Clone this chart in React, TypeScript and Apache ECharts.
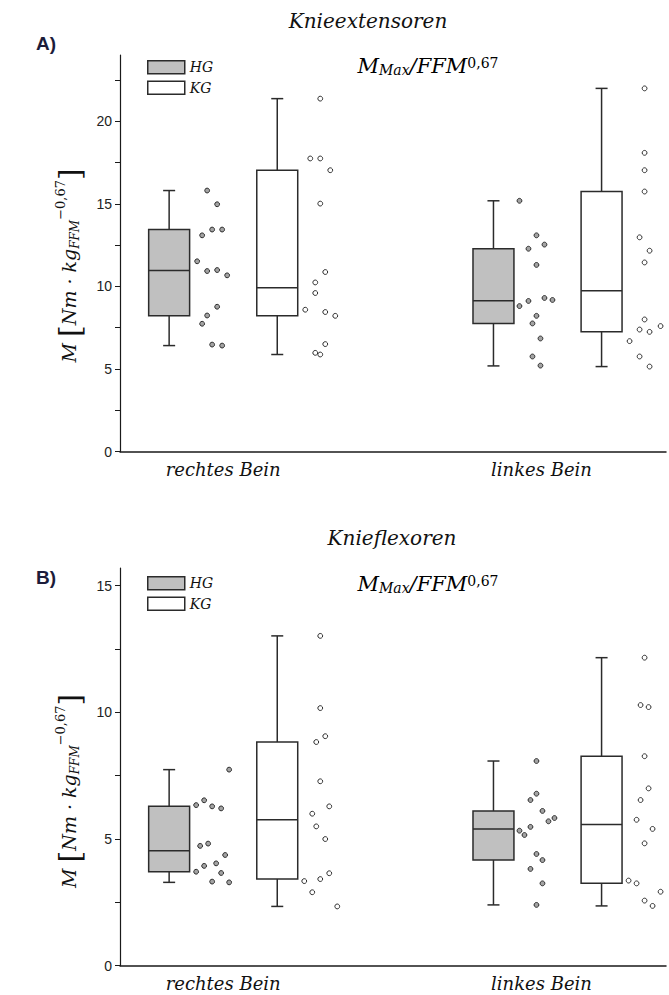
import React, { useEffect, useRef } from 'react';
import * as echarts from 'echarts';

// ---------- data ----------
const CATEGORIES = ['rechtes Bein', 'linkes Bein'];
const GROUPS = ['HG', 'KG'];

// box statistics per category: [min, Q1, median, Q3, max]
const A_HG_BOX = [[6.42, 8.22, 10.97, 13.44, 15.8], [5.19, 7.76, 9.13, 12.28, 15.18]];
const A_KG_BOX = [[5.88, 8.22, 9.92, 17.03, 21.36], [5.15, 7.25, 9.74, 15.74, 21.98]];
const B_HG_BOX = [[3.29, 3.71, 4.54, 6.29, 7.74], [2.4, 4.17, 5.4, 6.11, 8.08]];
const B_KG_BOX = [[2.34, 3.42, 5.76, 8.83, 13.02], [2.36, 3.25, 5.57, 8.27, 12.16]];

// individual values
const A_HG_RECHTS = [15.8, 14.97, 13.09, 13.44, 13.44, 11.52, 10.93, 10.99, 10.67, 8.77, 8.24, 7.74, 6.48, 6.42];
const A_KG_RECHTS = [21.36, 17.74, 17.74, 17.03, 15.01, 10.87, 10.24, 9.6, 8.59, 8.45, 8.22, 6.51, 5.98, 5.88];
const A_HG_LINKS = [15.18, 13.09, 12.28, 12.53, 11.3, 8.81, 9.12, 9.3, 9.18, 8.22, 7.76, 6.85, 5.76, 5.21];
const A_KG_LINKS = [21.98, 18.08, 17.03, 15.74, 12.97, 12.16, 11.45, 8.0, 7.39, 7.25, 7.6, 6.69, 5.76, 5.15];
const B_HG_RECHTS = [7.74, 6.53, 6.34, 6.29, 6.21, 4.73, 4.82, 4.37, 4.04, 3.94, 3.71, 3.66, 3.32, 3.29];
const B_KG_RECHTS = [13.02, 10.17, 9.06, 8.83, 7.28, 6.29, 6.0, 5.5, 5.0, 3.65, 3.42, 3.34, 2.9, 2.34];
const B_HG_LINKS = [8.08, 6.79, 6.54, 6.11, 5.7, 5.83, 5.48, 5.33, 5.16, 4.41, 4.17, 3.82, 3.25, 2.4];
const B_KG_LINKS = [12.16, 10.29, 10.21, 8.27, 7.0, 6.54, 5.76, 5.4, 4.83, 3.36, 3.25, 2.92, 2.57, 2.36];

// horizontal jitter of the individual points (offset to the right of their box)
const J_A_HG_RECHTS = [38, 48, 33, 43, 53, 28, 38, 48, 58, 48, 38, 33, 43, 53];
const J_A_KG_RECHTS = [43, 33, 43, 53, 43, 48, 38, 38, 28, 48, 58, 48, 38, 43];
const J_A_HG_LINKS = [26, 43, 35, 51, 43, 26, 35, 51, 59, 43, 39, 47, 39, 47];
const J_A_KG_LINKS = [43, 43, 43, 43, 38, 48, 43, 43, 38, 48, 59, 28, 38, 48];
const J_B_HG_RECHTS = [60, 35, 27, 43, 52, 31, 39, 56, 47, 35, 27, 52, 43, 60];
const J_B_KG_RECHTS = [43, 43, 48, 39, 43, 52, 35, 39, 48, 52, 43, 27, 35, 60];
const J_B_HG_LINKS = [43, 43, 37, 49, 55, 61, 37, 26, 31, 43, 49, 37, 49, 43];
const J_B_KG_LINKS = [43, 39, 47, 43, 47, 39, 35, 51, 43, 27, 35, 59, 43, 51];

const A_Y_TICKS = [0, 2.5, 5, 7.5, 10, 12.5, 15, 17.5, 20, 22.5];
const A_Y_LABELS = [0, 5, 10, 15, 20];
const B_Y_TICKS = [0, 2.5, 5, 7.5, 10, 12.5, 15];
const B_Y_LABELS = [0, 5, 10, 15];

// ---------- layout / style ----------
const CAT_X = [18.9, 78.3];
const LABEL_X = [18.9, 77.2];
const GROUP_SHIFT = [-9.9, 9.9];
const BOX_W = 7.5;
const CAP_W = 2.2;
const INK = '#2b2b2b';
const HG_FILL = '#c0c0c0';
const HG_DOT = '#a3a3a3';
const SERIF = '"DejaVu Serif", "Liberation Serif", serif';
const SANS = '"Liberation Sans", Arial, sans-serif';

function boxRender(fill: string) {
  return (params: any, api: any) => {
    const cx = api.value(0);
    const base = api.coord([cx, 0]);
    const hw = api.coord([cx + BOX_W / 2, 0])[0] - base[0];
    const cw = api.coord([cx + CAP_W / 2, 0])[0] - base[0];
    const x = base[0];
    const yMin = api.coord([cx, api.value(1)])[1];
    const yQ1 = api.coord([cx, api.value(2)])[1];
    const yMed = api.coord([cx, api.value(3)])[1];
    const yQ3 = api.coord([cx, api.value(4)])[1];
    const yMax = api.coord([cx, api.value(5)])[1];
    const st = { stroke: INK, lineWidth: 1.5 };
    return {
      type: 'group',
      children: [
        { type: 'line', shape: { x1: x, y1: yMax, x2: x, y2: yQ3 }, style: st },
        { type: 'line', shape: { x1: x, y1: yQ1, x2: x, y2: yMin }, style: st },
        { type: 'line', shape: { x1: x - cw, y1: yMax, x2: x + cw, y2: yMax }, style: st },
        { type: 'line', shape: { x1: x - cw, y1: yMin, x2: x + cw, y2: yMin }, style: st },
        { type: 'rect', shape: { x: x - hw, y: yQ3, width: 2 * hw, height: yQ1 - yQ3 }, style: { fill, ...st } },
        { type: 'line', shape: { x1: x - hw, y1: yMed, x2: x + hw, y2: yMed }, style: st },
      ],
    };
  };
}

function dotRender(fill: string) {
  return (params: any, api: any) => {
    const p = api.coord([api.value(0), api.value(1)]);
    return {
      type: 'circle',
      shape: { cx: p[0] + api.value(2), cy: p[1], r: 2.4 },
      style: { fill, stroke: INK, lineWidth: 1 },
    };
  };
}

function boxData(stats: number[][], g: number) {
  return stats.map((s, c) => [CAT_X[c] + GROUP_SHIFT[g], ...s]);
}

function dotData(vals: number[], jit: number[], c: number, g: number) {
  return vals.map((v, i) => [CAT_X[c] + GROUP_SHIFT[g], v, jit[i]]);
}

function panelSeries(idx: number, hgBox: number[][], kgBox: number[][], dots: [number[], number[], number, number][]) {
  const s: any[] = [
    {
      name: GROUPS[0], type: 'custom', xAxisIndex: idx, yAxisIndex: idx,
      itemStyle: { color: HG_FILL, borderColor: INK },
      encode: { x: 0, y: [1, 2, 3, 4, 5] },
      renderItem: boxRender(HG_FILL), data: boxData(hgBox, 0), z: 2,
    },
    {
      name: GROUPS[1], type: 'custom', xAxisIndex: idx, yAxisIndex: idx,
      itemStyle: { color: '#ffffff', borderColor: INK },
      encode: { x: 0, y: [1, 2, 3, 4, 5] },
      renderItem: boxRender('#ffffff'), data: boxData(kgBox, 1), z: 2,
    },
  ];
  dots.forEach(([vals, jit, c, g]) => {
    s.push({
      name: GROUPS[g] + ' Einzelwerte ' + CATEGORIES[c], type: 'custom', xAxisIndex: idx, yAxisIndex: idx,
      encode: { x: 0, y: 1 },
      renderItem: dotRender(g === 0 ? HG_DOT : '#ffffff'), data: dotData(vals, jit, c, g), z: 3,
    });
  });
  return s;
}

function xAxis(idx: number) {
  return {
    type: 'value', gridIndex: idx, min: 0, max: 100,
    axisLine: { show: true, lineStyle: { color: '#1a1a1a', width: 1.5 } },
    axisTick: { show: false },
    splitLine: { show: false },
    axisLabel: {
      customValues: LABEL_X,
      formatter: (v: number) => CATEGORIES[Math.abs(v - LABEL_X[0]) < Math.abs(v - LABEL_X[1]) ? 0 : 1],
      fontFamily: SERIF, fontStyle: 'italic', fontSize: 18, color: '#111', margin: 9,
    },
  };
}

const yName = '{i|M }{b|[}{i|Nm · kg}{sub|FFM}{sup|−0,67}{b|]}';
const yRich = {
  i: { fontFamily: SERIF, fontStyle: 'italic', fontSize: 19, color: '#111', verticalAlign: 'middle' },
  b: { fontFamily: SERIF, fontSize: 30, color: '#111', verticalAlign: 'middle' },
  sub: { fontFamily: SERIF, fontStyle: 'italic', fontSize: 12, color: '#111', verticalAlign: 'bottom', padding: [0, 0, 3, 0] },
  sup: { fontFamily: SERIF, fontSize: 13, color: '#111', verticalAlign: 'top' },
};

function yAxis(idx: number, max: number, ticks: number[], labels: number[], shift: number) {
  return {
    type: 'value', gridIndex: idx, min: 0, max,
    name: yName, nameLocation: 'middle', nameRotate: 90, nameGap: 36,
    nameTextStyle: { rich: yRich, padding: [0, shift, 0, 0] },
    axisLine: { show: true, lineStyle: { color: '#1a1a1a', width: 1.2 } },
    axisTick: { show: true, customValues: ticks, length: 5, lineStyle: { color: '#1a1a1a', width: 1 } },
    minorTick: { show: false },
    splitLine: { show: false },
    axisLabel: { customValues: labels, fontFamily: SANS, fontSize: 14, color: '#222', margin: 8 },
  };
}

function legend(top: number) {
  return {
    left: 142, top, orient: 'vertical', itemWidth: 37, itemHeight: 13, itemGap: 6,
    selectedMode: false, icon: 'rect',
    textStyle: { fontFamily: SERIF, fontStyle: 'italic', fontSize: 14, color: '#111' },
    data: [
      { name: GROUPS[0], icon: 'rect', itemStyle: { color: HG_FILL, borderColor: INK, borderWidth: 1.5 } },
      { name: GROUPS[1], icon: 'rect', itemStyle: { color: '#ffffff', borderColor: INK, borderWidth: 1.5 } },
    ],
  };
}

const mRich = {
  m: { fontFamily: SERIF, fontStyle: 'italic', fontSize: 21, color: '#111', verticalAlign: 'middle' },
  s: { fontFamily: SERIF, fontStyle: 'italic', fontSize: 14, color: '#111', verticalAlign: 'bottom' },
  p: { fontFamily: SERIF, fontSize: 14, color: '#111', verticalAlign: 'top' },
};

function titleTexts(panel: string, name: string, panelY: number, nameX: number, nameY: number, formulaY: number) {
  return [
    { type: 'text', left: 36, top: panelY, style: { text: panel, font: 'bold 19px ' + SANS, fill: '#1c1c3a' } },
    { type: 'text', x: nameX, y: nameY, style: { text: name, font: 'italic 20px ' + SERIF, fill: '#111', align: 'center', verticalAlign: 'middle' } },
    {
      type: 'text', x: 428, y: formulaY,
      style: { text: '{m|M}{s|Max}{m|/FFM}{p|0,67}', rich: mRich, align: 'center', verticalAlign: 'middle' },
    },
  ];
}

export default function App() {
  const ref = useRef<HTMLDivElement>(null);
  useEffect(() => {
    if (!ref.current) return;
    const chart = echarts.init(ref.current, null, { renderer: 'svg' });
    chart.setOption({
      animation: false,
      backgroundColor: '#ffffff',
      grid: [
        { left: 120, top: 55, width: 546, height: 396.7 },
        { left: 120, top: 568, width: 546, height: 397.7 },
      ],
      legend: [legend(55), legend(571)],
      xAxis: [xAxis(0), xAxis(1)],
      yAxis: [yAxis(0, 24, A_Y_TICKS, A_Y_LABELS, 24), yAxis(1, 15.7, B_Y_TICKS, B_Y_LABELS, 48)],
      series: [
        ...panelSeries(0, A_HG_BOX, A_KG_BOX, [
          [A_HG_RECHTS, J_A_HG_RECHTS, 0, 0],
          [A_KG_RECHTS, J_A_KG_RECHTS, 0, 1],
          [A_HG_LINKS, J_A_HG_LINKS, 1, 0],
          [A_KG_LINKS, J_A_KG_LINKS, 1, 1],
        ]),
        ...panelSeries(1, B_HG_BOX, B_KG_BOX, [
          [B_HG_RECHTS, J_B_HG_RECHTS, 0, 0],
          [B_KG_RECHTS, J_B_KG_RECHTS, 0, 1],
          [B_HG_LINKS, J_B_HG_LINKS, 1, 0],
          [B_KG_LINKS, J_B_KG_LINKS, 1, 1],
        ]),
      ],
      graphic: [
        ...titleTexts('A)', 'Knieextensoren', 34, 368, 21, 66),
        ...titleTexts('B)', 'Knieflexoren', 568, 392, 538, 584),
      ],
    });
    return () => chart.dispose();
  }, []);
  return <div ref={ref} style={{ position: 'absolute', left: 0, top: 0, width: 669, height: 995 }} />;
}
